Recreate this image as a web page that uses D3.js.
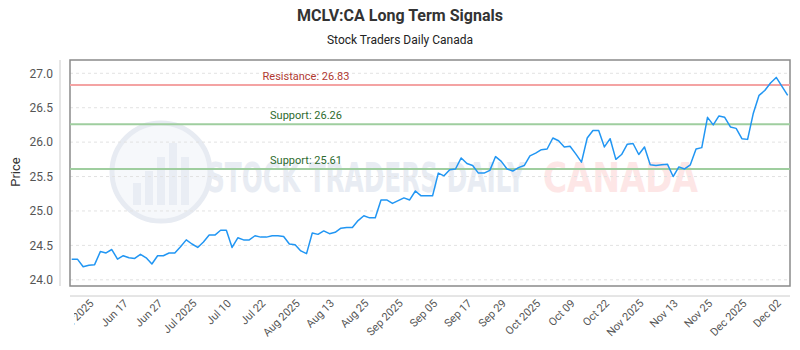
<!DOCTYPE html>
<html>
<head>
<meta charset="utf-8">
<script src="https://cdn.jsdelivr.net/npm/d3@7"></script>
<style>
  html, body { margin: 0; padding: 0; background: #fff; }
  svg { display: block; font-family: Roboto, "Noto Sans", sans-serif; }
</style>
</head>
<body>
<svg id="chart" width="800" height="350"></svg>
<script>
// ---- data ----
const title = "MCLV:CA Long Term Signals";
const subtitle = "Stock Traders Daily Canada";
const yAxisTitle = "Price";

const prices = [
  24.30, 24.30, 24.19, 24.21, 24.22, 24.41, 24.39, 24.44, 24.30, 24.35,
  24.32, 24.31, 24.37, 24.32, 24.23, 24.35, 24.35, 24.39, 24.39, 24.48,
  24.58, 24.52, 24.47, 24.55, 24.65, 24.65, 24.72, 24.72, 24.47, 24.61,
  24.58, 24.58, 24.64, 24.62, 24.62, 24.64, 24.64, 24.63, 24.52, 24.51,
  24.42, 24.38, 24.68, 24.66, 24.71, 24.67, 24.69, 24.75, 24.76, 24.76,
  24.86, 24.93, 24.90, 24.90, 25.16, 25.16, 25.11, 25.15, 25.19, 25.16,
  25.29, 25.22, 25.22, 25.22, 25.55, 25.51, 25.60, 25.61, 25.77, 25.69,
  25.66, 25.55, 25.55, 25.59, 25.79, 25.72, 25.61, 25.58, 25.63, 25.66,
  25.80, 25.84, 25.89, 25.90, 26.06, 26.02, 25.93, 25.94, 25.83, 25.71,
  26.06, 26.17, 26.17, 25.93, 26.05, 25.75, 25.82, 25.97, 25.98, 25.82,
  25.93, 25.67, 25.66, 25.67, 25.68, 25.50, 25.64, 25.61, 25.67, 25.90,
  25.92, 26.36, 26.25, 26.38, 26.36, 26.22, 26.20, 26.05, 26.04, 26.42,
  26.68, 26.75, 26.86, 26.94, 26.81, 26.68
];

const xTickLabels = [
  "Jun 2025", "Jun 17", "Jun 27", "Jul 2025", "Jul 10", "Jul 22",
  "Aug 2025", "Aug 13", "Aug 25", "Sep 2025", "Sep 05", "Sep 17",
  "Sep 29", "Oct 2025", "Oct 09", "Oct 22", "Nov 2025", "Nov 13",
  "Nov 25", "Dec 2025", "Dec 02"
];
const firstTickIndex = 3;
const tickEvery = 6;

const yTickValues = [24.0, 24.5, 25.0, 25.5, 26.0, 26.5, 27.0];

const signalNames = ["Resistance", "Support", "Support"];
const signalValues = [26.83, 26.26, 25.61];
const signalKinds = ["resistance", "support", "support"];

// ---- layout ----
const svg = d3.select("#chart");
const W = 800, H = 350;
const plot = { left: 70, right: 790, top: 60, bottom: 286 };

const x = d3.scaleLinear()
  .domain([0, prices.length - 1])
  .range([71.7, 787.7]);
const y = d3.scaleLinear()
  .domain([23.91, 27.193])
  .range([plot.bottom, plot.top]);

// title
svg.append("text")
  .attr("x", W / 2).attr("y", 21)
  .attr("text-anchor", "middle")
  .attr("font-size", 16).attr("font-weight", "bold")
  .attr("fill", "#333")
  .text(title);
svg.append("text")
  .attr("x", W / 2).attr("y", 44)
  .attr("text-anchor", "middle")
  .attr("font-size", 12)
  .attr("fill", "#222")
  .text(subtitle);

// watermark
const wm = svg.append("g").attr("class", "watermark");
wm.append("circle")
  .attr("cx", 161).attr("cy", 172).attr("r", 49)
  .attr("fill", "#f6f8fb").attr("stroke", "#e7ebf2").attr("stroke-width", 5);
const barHeights = [22, 34, 48, 62, 48];
barHeights.forEach((h, i) => {
  wm.append("rect")
    .attr("x", 133 + i * 12).attr("y", 205 - h)
    .attr("width", 8).attr("height", h)
    .attr("fill", "#e9edf4");
});
wm.append("text")
  .attr("x", 207).attr("y", 192)
  .attr("font-family", "'DejaVu Sans Condensed', 'DejaVu Sans', sans-serif")
  .attr("font-weight", "bold")
  .attr("font-size", 41)
  .attr("textLength", 318).attr("lengthAdjust", "spacingAndGlyphs")
  .attr("fill", "#e8ecf3")
  .text("STOCK TRADERS DAILY");
wm.append("text")
  .attr("x", 543).attr("y", 192)
  .attr("font-family", "'DejaVu Sans Condensed', 'DejaVu Sans', sans-serif")
  .attr("font-weight", "bold")
  .attr("font-size", 41)
  .attr("textLength", 155).attr("lengthAdjust", "spacingAndGlyphs")
  .attr("fill", "#fde6e6")
  .text("CANADA");

// grid lines
svg.append("g")
  .selectAll("line")
  .data(yTickValues)
  .join("line")
  .attr("x1", plot.left).attr("x2", plot.right)
  .attr("y1", d => y(d)).attr("y2", d => y(d))
  .attr("stroke", "#e2e2e2").attr("stroke-width", 1)
  .attr("stroke-dasharray", "3,3");

// y axis (offset)
const yAxis = d3.axisLeft(y)
  .tickValues(yTickValues)
  .tickFormat(d3.format(".1f"))
  .tickSize(0)
  .tickPadding(7);
const gy = svg.append("g")
  .attr("transform", `translate(60,0)`)
  .call(yAxis);
gy.select(".domain").attr("stroke", "#ccc").attr("d", `M0,${plot.top}V${plot.bottom}`);
gy.selectAll("text").attr("font-size", 12).attr("fill", "#555")
  .attr("font-family", "Roboto, sans-serif");

// y axis title
svg.append("text")
  .attr("transform", `translate(20,172) rotate(-90)`)
  .attr("text-anchor", "middle")
  .attr("font-size", 13).attr("fill", "#333")
  .text(yAxisTitle);

// x axis (offset), labels clipped near the plot's left edge
const tickIdx = xTickLabels.map((_, i) => firstTickIndex + i * tickEvery);
const xAxis = d3.axisBottom(x)
  .tickValues(tickIdx)
  .tickFormat((d, i) => xTickLabels[i])
  .tickSize(0)
  .tickPadding(0);
svg.append("defs").append("clipPath").attr("id", "xclip")
  .append("rect").attr("x", 74).attr("y", 290).attr("width", 726).attr("height", 60);
const clipG = svg.append("g").attr("clip-path", "url(#xclip)");
const gx = clipG.append("g")
  .attr("transform", `translate(0,296)`)
  .call(xAxis);
gx.select(".domain").remove();
gx.selectAll(".tick text")
  .attr("font-size", 11).attr("fill", "#555")
  .attr("font-family", "Roboto, sans-serif")
  .attr("text-anchor", "end")
  .attr("dy", null)
  .attr("transform", "translate(5,8) rotate(-45)");

// frame
svg.append("rect")
  .attr("x", plot.left).attr("y", plot.top)
  .attr("width", plot.right - plot.left).attr("height", plot.bottom - plot.top)
  .attr("fill", "none").attr("stroke", "#8a8a8a").attr("stroke-width", 1.5);
svg.append("line")
  .attr("x1", plot.left).attr("x2", plot.right)
  .attr("y1", 296).attr("y2", 296)
  .attr("stroke", "#ccc");

// signal lines
const sig = svg.append("g");
signalValues.forEach((v, i) => {
  const isRes = signalKinds[i] === "resistance";
  sig.append("line")
    .attr("x1", plot.left).attr("x2", plot.right)
    .attr("y1", y(v)).attr("y2", y(v))
    .attr("stroke", isRes ? "#f4a3a3" : "#9fce9f")
    .attr("stroke-width", 2);
  sig.append("text")
    .attr("x", 306).attr("y", y(v) - 5)
    .attr("text-anchor", "middle")
    .attr("font-size", 11)
    .attr("fill", isRes ? "#b03a32" : "#2e6b2e")
    .text(`${signalNames[i]}: ${v.toFixed(2)}`);
});

// price line
const line = d3.line()
  .x((d, i) => x(i))
  .y(d => y(d));
svg.append("path")
  .datum(prices)
  .attr("d", line)
  .attr("fill", "none")
  .attr("stroke", "#2196f3")
  .attr("stroke-width", 1.5)
  .attr("stroke-linejoin", "round");
</script>
</body>
</html>
